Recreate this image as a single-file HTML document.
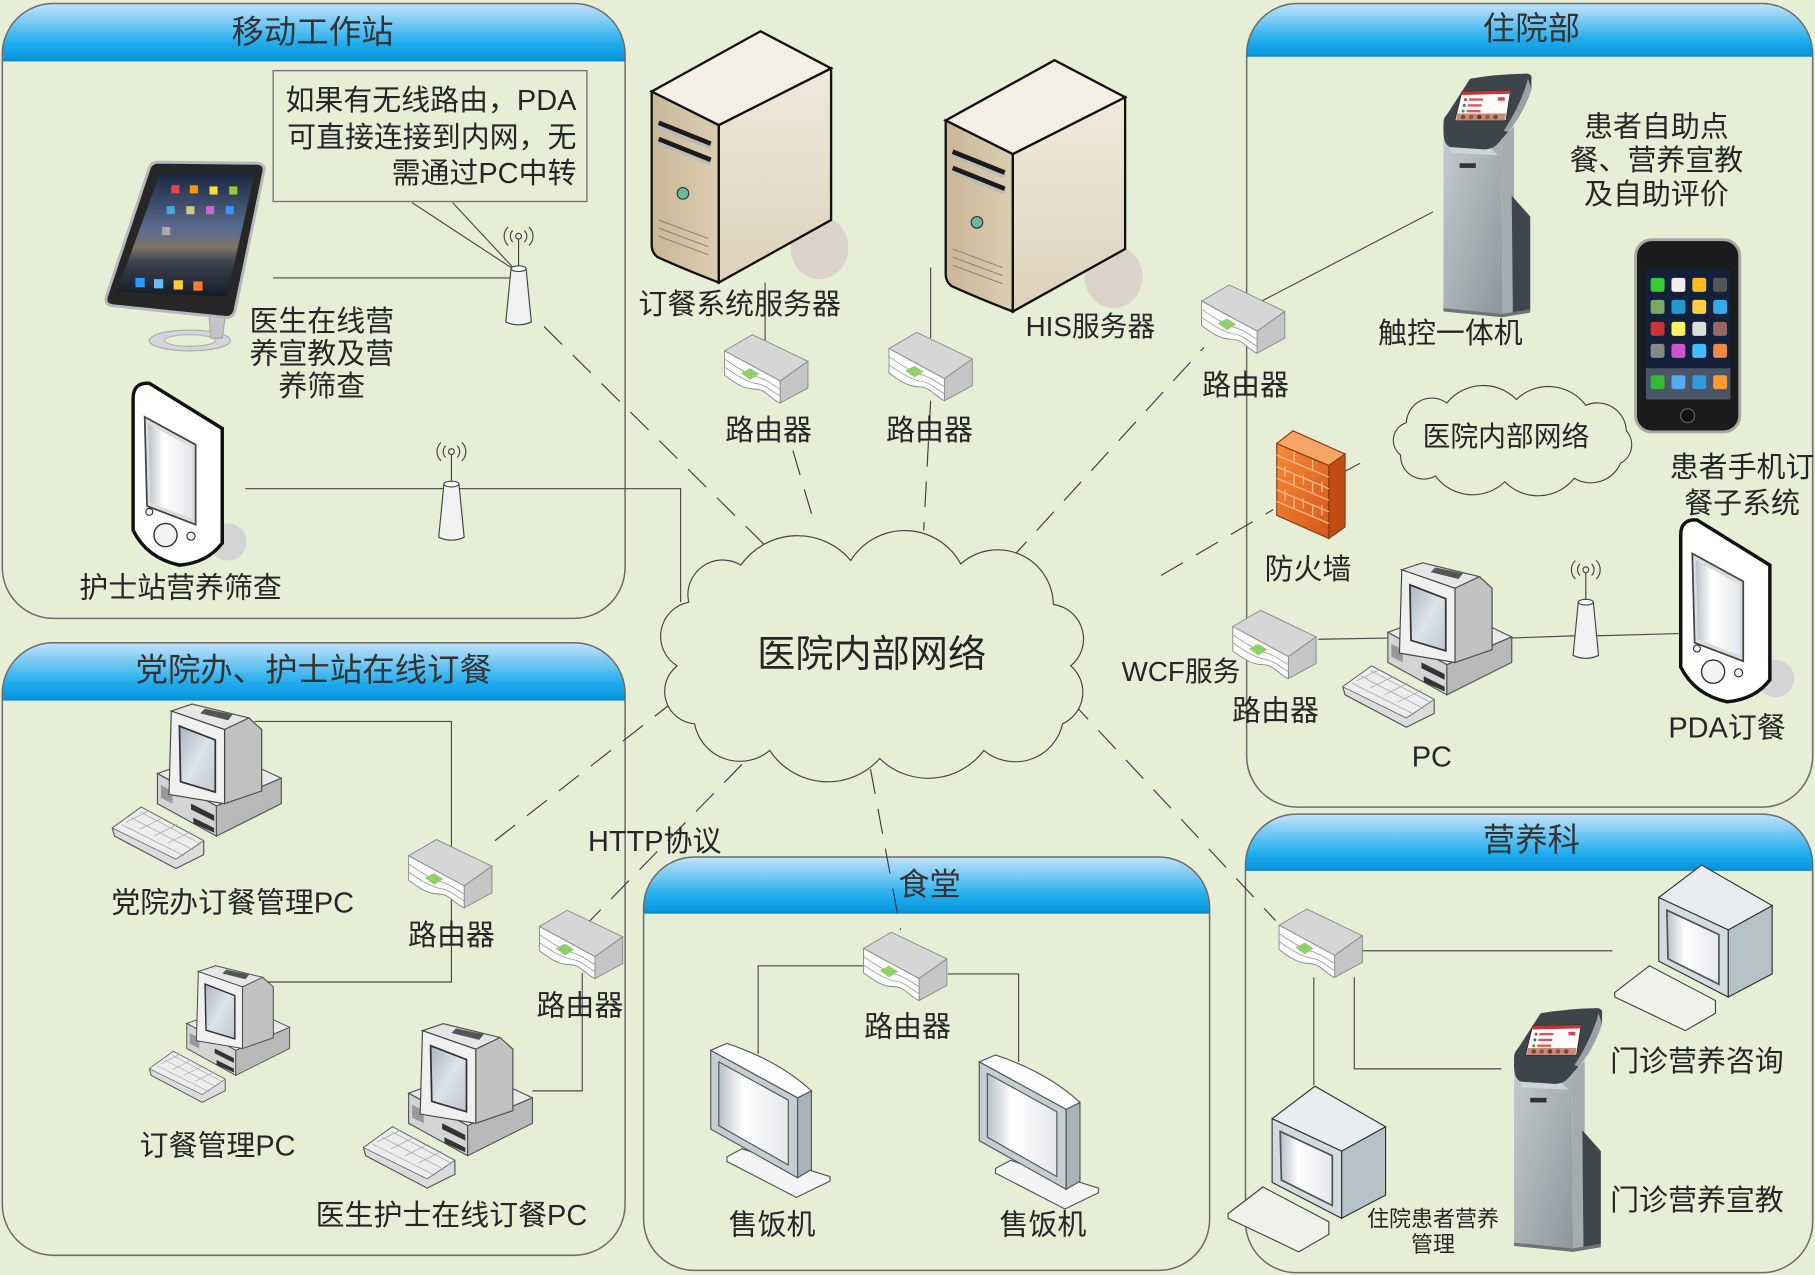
<!DOCTYPE html>
<html><head><meta charset="utf-8">
<style>
html,body{margin:0;padding:0;background:#e6eed5;overflow:hidden;}
svg{display:block;}
text{font-family:"Liberation Sans","Noto Sans CJK SC",sans-serif;fill:#262626;}
.t{font-size:25px;}
.h{font-size:28px;fill:#333;}
</style></head>
<body>
<svg width="1815" height="1275" viewBox="0 0 1568 1101" preserveAspectRatio="none" xmlns="http://www.w3.org/2000/svg">
<defs>
 <linearGradient id="hdr" x1="0" y1="0" x2="0" y2="1">
  <stop offset="0" stop-color="#c2e3fa"/>
  <stop offset="0.35" stop-color="#72c8f4"/>
  <stop offset="0.7" stop-color="#1eaced"/>
  <stop offset="0.94" stop-color="#0b98de"/>
  <stop offset="1" stop-color="#0a86c8"/>
 </linearGradient>
 <linearGradient id="scr" x1="0" y1="0" x2="1" y2="1">
  <stop offset="0" stop-color="#aab4c2"/>
  <stop offset="0.5" stop-color="#dde3ea"/>
  <stop offset="1" stop-color="#bfc7d2"/>
 </linearGradient>
 <linearGradient id="scr2" x1="0" y1="0" x2="1" y2="0">
  <stop offset="0" stop-color="#b8c0c8"/>
  <stop offset="0.35" stop-color="#ffffff"/>
  <stop offset="1" stop-color="#e4e8ec"/>
 </linearGradient>
 <linearGradient id="svL" x1="0" y1="0" x2="1" y2="0">
  <stop offset="0" stop-color="#c9b796"/>
  <stop offset="1" stop-color="#dccdb2"/>
 </linearGradient>
 <linearGradient id="svR" x1="0" y1="0" x2="0" y2="1">
  <stop offset="0" stop-color="#f0e9db"/>
  <stop offset="1" stop-color="#ddd1bb"/>
 </linearGradient>
 <linearGradient id="fwF" x1="0" y1="0" x2="1" y2="1">
  <stop offset="0" stop-color="#f58a3a"/>
  <stop offset="1" stop-color="#d9561a"/>
 </linearGradient>
 <linearGradient id="kb" x1="0" y1="0" x2="1" y2="1">
  <stop offset="0" stop-color="#c6cdd0"/>
  <stop offset="1" stop-color="#8d969b"/>
 </linearGradient>
 <linearGradient id="ipad" x1="0" y1="0" x2="0" y2="1">
  <stop offset="0" stop-color="#1c2842"/>
  <stop offset="0.45" stop-color="#5a6c90"/>
  <stop offset="0.6" stop-color="#7d7466"/>
  <stop offset="0.72" stop-color="#3a4250"/>
  <stop offset="1" stop-color="#161b26"/>
 </linearGradient>

 <g id="router">
  <polygon points="0,14 24,0 72,23 48,40" fill="#d6d6d6" stroke="#8a8a8a" stroke-width="0.8"/>
  <polygon points="48,40 72,23 72,46 48,59" fill="#c6c6c6" stroke="#8a8a8a" stroke-width="0.8"/>
  <path d="M0,14 L48,40 L48,59 C40,56 36,47 26,47 C16,47 8,41 0,35 Z" fill="#ffffff" stroke="#8a8a8a" stroke-width="0.8"/>
  <path d="M0,21 C10,28 18,33 26,36 C36,38 42,44 48,47" fill="none" stroke="#999" stroke-width="0.7"/>
  <path d="M0,28 C10,35 18,40 26,42 C36,43 42,50 48,53" fill="none" stroke="#999" stroke-width="0.7"/>
  <polygon points="14,33 22,29 30,34 22,39" fill="#8fd068"/>
 </g>

 <g id="pc">
  <polygon points="0,107 25,89 79,118 79,130 55,142 2,114" fill="#dcdcdc" stroke="#555" stroke-width="1"/>
  <polygon points="0,107 25,89 79,118 55,134" fill="#ededed" stroke="#666" stroke-width="0.7"/>
  <path d="M8,104 L62,131 M16,98 L70,126 M24,93 L75,120 M12,102 L32,92 M24,108 L44,98 M36,114 L56,104 M48,120 L68,110" stroke="#aaa" stroke-width="0.7" fill="none"/>
  <polygon points="39,60 95,40 146,64 90,88" fill="#e9e9e9" stroke="#555"/>
  <polygon points="39,60 90,88 90,114 39,86" fill="#d4d4d4" stroke="#555"/>
  <polygon points="90,88 146,64 146,86 90,114" fill="#b9b9b9" stroke="#555"/>
  <polygon points="68,86 88,96 88,101 68,91" fill="#333"/>
  <polygon points="70,98 88,107 88,111 70,103" fill="#333"/>
  <polygon points="42,70 52,75 52,86 42,81" fill="#999"/>
  <polygon points="51,6 69,0 118,12 129,22 129,75 97,86 97,22" fill="#d0d0d0" stroke="#555"/>
  <polygon points="51,6 69,0 118,12 97,22" fill="#e6e6e6" stroke="#555"/>
  <polygon points="80,4 104,9 100,14 76,8" fill="#555"/>
  <polygon points="97,22 118,12 129,22 129,75 97,86" fill="#c2c2c2" stroke="#555"/>
  <polygon points="51,6 97,22 97,86 49,78" fill="#f0f0f0" stroke="#444"/>
  <polygon points="58,19 89,31 89,76 59,67" fill="url(#scr)" stroke="#333" stroke-width="1.5"/>
 </g>

 <g id="mon">
  <polygon points="15,99 28,92 104,116 104,120 75,134 15,103" fill="#f4f4f4" stroke="#555"/>
  <polygon points="76,48 88,42 88,110 76,117" fill="#a9b4b8" stroke="#555"/>
  <path d="M1,7 L15,1 Q60,16 88,42 L76,48 Z" fill="#fbfbfb" stroke="#555"/>
  <polygon points="1,7 76,48 76,117 1,75" fill="#c4cfd3" stroke="#555"/>
  <polygon points="8,17 68,50 68,106 8,72" fill="url(#scr2)" stroke="#555"/>
 </g>

 <g id="box">
  <polygon points="0,111 30,88 87,118 87,129 61,144 0,115" fill="#eef2ea" stroke="#444"/>
  <polygon points="98,57 136,36 136,95 98,115" fill="#b5c2c6" stroke="#333"/>
  <polygon points="38,29 75,1 136,36 98,57" fill="#e8eef0" stroke="#333"/>
  <polygon points="38,29 98,57 98,115 38,84" fill="#d3dde0" stroke="#333"/>
  <polygon points="45,40 90,61 90,104 46,82" fill="url(#scr2)" stroke="#555" stroke-width="1.5"/>
 </g>

 <g id="kiosk">
  <polygon points="5,40 55,58 56,208 5,203" fill="url(#kb)"/>
  <polygon points="55,58 66,46 66,208 56,208" fill="#a4acb0"/>
  <polygon points="64,106 80,124 80,204 65,208" fill="#3f464b"/>
  <polygon points="5,203 56,208 80,204 80,207 56,211 5,206" fill="#6c7479"/>
  <rect x="19" y="78" width="14" height="4" fill="#333"/>
  <polygon points="10,63 46,65 52,71 12,69" fill="#cfd5d7"/>
  <path d="M28,5 Q50,1 77,0.5 Q82,1 81,6 L81,14 Q74,35 61,51 L51,62 Q47,66 40,66 L11,64 Q5,62 5,50 L5,45 Q5,38 8,36 Z" fill="#3d444a"/>
  <path d="M78,5 L81,14 Q74,35 61,51 L57,50 Q69,32 76,12 Z" fill="#9aa2a6"/>
  <polygon points="21,16 63,15 59,41 15,41" fill="#fafafa" stroke="#222" stroke-width="0.6"/>
  <polygon points="21,16 63,15 63,18 21,19" fill="#c83434"/>
  <circle cx="24" cy="23" r="1.3" fill="#d33"/><rect x="27" y="22" width="12" height="2" fill="#d55"/>
  <circle cx="23" cy="28" r="1.3" fill="#36c"/><rect x="26" y="27" width="12" height="2" fill="#d55"/>
  <circle cx="22" cy="33" r="1.3" fill="#3a3"/><rect x="25" y="32" width="12" height="2" fill="#d55"/>
  <rect x="52" y="21" width="6" height="3" fill="#d44"/>
  <polygon points="17,35 59,35 58,41 16,41" fill="#c98a7a"/>
  <circle cx="22" cy="38" r="2" fill="#7a4a3a"/><circle cx="29" cy="38" r="2" fill="#8a5a4a"/><circle cx="36" cy="38" r="2" fill="#6a3a2a"/><circle cx="43" cy="38" r="2" fill="#8a5a4a"/><circle cx="50" cy="38" r="2" fill="#7a4a3a"/>
 </g>

 <g id="pda">
  <circle cx="84" cy="138" r="16" fill="#d4d4d4"/>
  <path d="M2,14 Q2,0 16,1 L79,40 L79,139 Q66,156 42,158 Q14,152 2,128 Z" fill="#ffffff" stroke="#111" stroke-width="3"/>
  <polygon points="12,30 56,54 56,123 14,107" fill="#dcdcdc" stroke="#444" stroke-width="1.5"/>
  <polygon points="15,36 53,57 53,118 17,104" fill="url(#scr2)"/>
  <circle cx="30" cy="132" r="10" fill="#f4f4f4" stroke="#333" stroke-width="1.2"/>
  <circle cx="16" cy="112" r="3" fill="#fff" stroke="#333"/>
  <circle cx="52" cy="133" r="3.5" fill="#fff" stroke="#333"/>
 </g>

 <g id="ant">
  <circle cx="0" cy="0" r="2.5" fill="none" stroke="#444"/>
  <path d="M-5,-5 A7,7 0 0 0 -5,5 M5,-5 A7,7 0 0 1 5,5 M-9,-8 A11,11 0 0 0 -9,8 M9,-8 A11,11 0 0 1 9,8" fill="none" stroke="#444"/>
  <line x1="0" y1="2.5" x2="0" y2="28" stroke="#444"/>
  <path d="M-6.5,28 L-11,74 Q0,79 11,74 L6.5,28 Z" fill="#f2f2f2" stroke="#444"/>
  <ellipse cx="0" cy="28" rx="6.5" ry="2.5" fill="#fff" stroke="#444"/>
 </g>

 <g id="server">
  <ellipse cx="708" cy="214" rx="25" ry="27" fill="#dcd3cb"/>
  <path d="M563,79 L621,108 L621,244 Q590,232 568,222 Q563,218 563,212 Z" fill="url(#svL)" stroke="#111" stroke-width="2"/>
  <polygon points="621,108 718,59 718,190 621,244" fill="url(#svR)" stroke="#111" stroke-width="2"/>
  <polygon points="563,79 657,27 718,59 621,108" fill="#f3efe5" stroke="#111" stroke-width="2"/>
  <path d="M569,106 L614,124" stroke="#bbb" stroke-width="4" transform="translate(0,3)"/>
  <path d="M569,106 L614,124" stroke="#1a1a1a" stroke-width="4"/>
  <path d="M569,120 L614,138" stroke="#bbb" stroke-width="4" transform="translate(0,3)"/>
  <path d="M569,120 L614,138" stroke="#1a1a1a" stroke-width="4"/>
  <circle cx="590" cy="167" r="5" fill="#6fb8a0" stroke="#333"/>
  <path d="M569,190 L612,206 M569,197 L612,213 M569,204 L612,220" stroke="#8a7a60" stroke-width="0.8"/>
 </g>
</defs>

<!-- background -->
<rect x="0" y="0" width="1568" height="1101" fill="#e6eed5"/>

<!-- panels -->
<clipPath id="c1"><rect x="2" y="3" width="538" height="531" rx="44"/></clipPath>
<clipPath id="c2"><rect x="2" y="555" width="538" height="529" rx="44"/></clipPath>
<clipPath id="c3"><rect x="1077" y="3" width="489" height="694" rx="44"/></clipPath>
<clipPath id="c4"><rect x="1076" y="703" width="490" height="396" rx="44"/></clipPath>
<clipPath id="c5"><rect x="556" y="740" width="489" height="357" rx="44"/></clipPath>

<rect x="2" y="3" width="538" height="50" fill="url(#hdr)" clip-path="url(#c1)"/>
<rect x="2" y="555" width="538" height="50" fill="url(#hdr)" clip-path="url(#c2)"/>
<rect x="1077" y="3" width="489" height="46" fill="url(#hdr)" clip-path="url(#c3)"/>
<rect x="1076" y="703" width="490" height="49" fill="url(#hdr)" clip-path="url(#c4)"/>
<rect x="556" y="740" width="489" height="49" fill="url(#hdr)" clip-path="url(#c5)"/>

<g fill="none" stroke="#6c6c6c" stroke-width="1.3">
 <rect x="2" y="3" width="538" height="531" rx="44"/>
 <rect x="2" y="555" width="538" height="529" rx="44"/>
 <rect x="1077" y="3" width="489" height="694" rx="44"/>
 <rect x="1076" y="703" width="490" height="396" rx="44"/>
 <rect x="556" y="740" width="489" height="357" rx="44"/>
</g>

<!-- solid connectors -->
<g fill="none" stroke="#4a4a4a" stroke-width="1">
 <path d="M236,240 L441,240"/>
 <path d="M356,175 L446,234 M391,175 L446,234"/>
 <path d="M212,422 L588,422 L588,520"/>
 <path d="M661,244 L661,298"/>
 <path d="M804,231 L804,292"/>
 <path d="M1088,261 L1238,183"/>
 <path d="M1162,407 L1175,400"/>
 <path d="M1139,552 L1199,551"/>
 <path d="M1305,551 L1362,549"/>
 <path d="M1380,549 L1454,547"/>
 <path d="M220,623 L390,623 L390,848 L229,848"/>
 <path d="M503,840 L503,942 L460,942"/>
 <path d="M750,834 L655,834 L655,910"/>
 <path d="M819,841 L880,841 L880,917"/>
 <path d="M1177,821 L1393,821"/>
 <path d="M1135,844 L1135,937"/>
 <path d="M1170,844 L1170,923 L1297,923"/>
</g>

<!-- dashed connectors -->
<g fill="none" stroke="#3e3e3e" stroke-width="1" stroke-dasharray="22 13">
 <path d="M470,282 L662,472"/>
 <path d="M685,389 L702,447"/>
 <path d="M804,346 L798,458"/>
 <path d="M872,484 L1040,300"/>
 <path d="M1003,497 L1100,440"/>
 <path d="M925,605 L1102,795"/>
 <path d="M583,605 L425,728"/>
 <path d="M641,660 L501,804"/>
 <path d="M752,664 L778,803"/>
</g>

<!-- clouds -->
<path d="M595,520 A30,30 0 0 1 640,488 A60,60 0 0 1 735,484 A55,55 0 0 1 830,487 A48,48 0 0 1 910,522 A30,30 0 0 1 925,575 A30,30 0 0 1 918,625 A42,42 0 0 1 850,648 A60,60 0 0 1 760,655 A60,60 0 0 1 665,648 A40,40 0 0 1 600,625 A28,28 0 0 1 585,575 A30,30 0 0 1 595,520 Z" fill="#e6eed5" stroke="#444" stroke-width="1"/>
<path d="M1215,365 A22,22 0 0 1 1250,348 A40,40 0 0 1 1310,345 A40,40 0 0 1 1370,350 A25,25 0 0 1 1405,372 A18,18 0 0 1 1400,400 A28,28 0 0 1 1360,413 A40,40 0 0 1 1300,416 A40,40 0 0 1 1240,411 A20,20 0 0 1 1210,393 A16,16 0 0 1 1215,365 Z" fill="#e6eed5" stroke="#444" stroke-width="1"/>

<!-- callout -->
<rect x="236" y="61" width="271" height="113" fill="none" stroke="#777" stroke-width="1.2"/>

<!-- servers -->
<use href="#server"/>
<use href="#server" transform="translate(254,25)"/>

<!-- iPad -->
<ellipse cx="164" cy="294" rx="35" ry="9" fill="#d6d6da" stroke="#a8a8ae"/>
<ellipse cx="164" cy="294" rx="22" ry="5" fill="#e6eed5" stroke="#b0b0b4"/>
<polygon points="180,262 196,262 192,292 182,292" fill="#c4c4ca" stroke="#aaa"/>
<path d="M137,140 L223,141 Q229,142 228,148 L203,268 Q201,275 194,274 L97,264 Q90,263 92,256 L129,145 Q131,140 137,140 Z" fill="#262626" stroke="#b8b8bc" stroke-width="2.5"/>
<polygon points="138,150 220,150 196,256 101,252" fill="url(#ipad)"/>
<g>
 <rect x="148" y="160" width="7" height="7" fill="#e44"/><rect x="164" y="160" width="7" height="7" fill="#f90"/><rect x="181" y="161" width="7" height="7" fill="#fd3"/><rect x="198" y="161" width="7" height="7" fill="#9c3"/>
 <rect x="144" y="178" width="7" height="7" fill="#4ad"/><rect x="161" y="178" width="7" height="7" fill="#cc8"/><rect x="178" y="178" width="7" height="7" fill="#c6c"/><rect x="195" y="178" width="7" height="7" fill="#39f"/>
 <rect x="140" y="196" width="7" height="7" fill="#aaa"/>
 <rect x="117" y="240" width="8" height="8" fill="#29f"/><rect x="133" y="241" width="8" height="8" fill="#6bf"/><rect x="150" y="242" width="8" height="8" fill="#fc3"/><rect x="167" y="243" width="8" height="8" fill="#f73"/>
</g>

<!-- PDAs -->
<use href="#pda" transform="translate(113,330)"/>
<use href="#pda" transform="translate(1450,448)"/>

<!-- antennas -->
<use href="#ant" transform="translate(448,204)"/>
<use href="#ant" transform="translate(390,390)"/>
<use href="#ant" transform="translate(1370,492)"/>

<!-- routers -->
<use href="#router" transform="translate(626,289)"/>
<use href="#router" transform="translate(768,287)"/>
<use href="#router" transform="translate(1038,246)"/>
<use href="#router" transform="translate(1065,527)"/>
<use href="#router" transform="translate(353,725)"/>
<use href="#router" transform="translate(466,786)"/>
<use href="#router" transform="translate(746,805)"/>
<use href="#router" transform="translate(1105,785)"/>

<!-- PCs -->
<use href="#pc" transform="translate(97,608)"/>
<use href="#pc" transform="translate(129,834) scale(0.83)"/>
<use href="#pc" transform="translate(314,884)"/>
<use href="#pc" transform="translate(1160,486)"/>

<!-- 售饭机 monitors -->
<use href="#mon" transform="translate(613,900)"/>
<use href="#mon" transform="translate(845,910)"/>

<!-- 营养科 box monitors -->
<use href="#box" transform="translate(1395,746)"/>
<use href="#box" transform="translate(1061,937)"/>

<!-- kiosks -->
<use href="#kiosk" transform="translate(1242,63)"/>
<use href="#kiosk" transform="translate(1303,870)"/>

<!-- firewall -->
<polygon points="1103,383 1148,402 1148,465 1103,445" fill="url(#fwF)" stroke="#8a3a10" stroke-width="1"/>
<polygon points="1103,383 1117,372 1162,392 1148,402" fill="#f6a567" stroke="#8a3a10" stroke-width="1"/>
<polygon points="1148,402 1162,392 1162,455 1148,465" fill="#c24c12" stroke="#8a3a10" stroke-width="1"/>
<g stroke="#fbb77e" stroke-width="1.2" fill="none">
 <path d="M1103,393 L1148,412 M1103,403 L1148,422 M1103,413 L1148,432 M1103,423 L1148,442 M1103,433 L1148,452"/>
 <path d="M1118,390 L1118,399 M1134,397 L1134,406 M1110,403 L1110,412 M1126,410 L1126,419 M1142,416 L1142,425 M1118,410 L1118,419 M1134,417 L1134,426 M1110,423 L1110,432 M1126,430 L1126,439 M1142,436 L1142,445 M1118,430 L1118,439 M1134,437 L1134,446"/>
</g>

<!-- iPhone -->
<rect x="1413" y="207" width="90" height="166" rx="14" fill="#1b1b1b" stroke="#a8a8a8" stroke-width="2.5"/>
<rect x="1422" y="233" width="73" height="112" fill="#13203a"/>
<rect x="1422" y="318" width="73" height="27" fill="#4a5568"/>
<g>
 <rect x="1426" y="240" width="12" height="12" rx="2" fill="#3c3"/><rect x="1444" y="240" width="12" height="12" rx="2" fill="#eee"/><rect x="1462" y="240" width="12" height="12" rx="2" fill="#fb2"/><rect x="1480" y="240" width="12" height="12" rx="2" fill="#555"/>
 <rect x="1426" y="259" width="12" height="12" rx="2" fill="#7a6"/><rect x="1444" y="259" width="12" height="12" rx="2" fill="#29c"/><rect x="1462" y="259" width="12" height="12" rx="2" fill="#fc4"/><rect x="1480" y="259" width="12" height="12" rx="2" fill="#3ae"/>
 <rect x="1426" y="278" width="12" height="12" rx="2" fill="#c33"/><rect x="1444" y="278" width="12" height="12" rx="2" fill="#fe6"/><rect x="1462" y="278" width="12" height="12" rx="2" fill="#ddd"/><rect x="1480" y="278" width="12" height="12" rx="2" fill="#966"/>
 <rect x="1426" y="297" width="12" height="12" rx="2" fill="#888"/><rect x="1444" y="297" width="12" height="12" rx="2" fill="#c5c"/><rect x="1462" y="297" width="12" height="12" rx="2" fill="#4bf"/><rect x="1480" y="297" width="12" height="12" rx="2" fill="#e84"/>
 <rect x="1426" y="324" width="12" height="12" rx="2" fill="#3b3"/><rect x="1444" y="324" width="12" height="12" rx="2" fill="#5ae"/><rect x="1462" y="324" width="12" height="12" rx="2" fill="#39d"/><rect x="1480" y="324" width="12" height="12" rx="2" fill="#f93"/>
</g>
<circle cx="1458" cy="359" r="6" fill="#111" stroke="#666"/>

<!-- TEXT -->
<text class="h" x="270" y="37" text-anchor="middle">移动工作站</text>
<text class="t" x="498" y="95" text-anchor="end">如果有无线路由，PDA</text>
<text class="t" x="498" y="127" text-anchor="end">可直接连接到内网，无</text>
<text class="t" x="498" y="158" text-anchor="end">需通过PC中转</text>
<text class="t" x="278" y="286" text-anchor="middle">医生在线营</text>
<text class="t" x="278" y="314" text-anchor="middle">养宣教及营</text>
<text class="t" x="278" y="342" text-anchor="middle">养筛查</text>
<text class="t" x="156" y="516" text-anchor="middle">护士站营养筛查</text>

<text class="h" x="271" y="588" text-anchor="middle">党院办、护士站在线订餐</text>
<text class="t" x="201" y="788" text-anchor="middle">党院办订餐管理PC</text>
<text class="t" x="390" y="816" text-anchor="middle">路由器</text>
<text class="t" x="501" y="877" text-anchor="middle">路由器</text>
<text class="t" x="188" y="998" text-anchor="middle">订餐管理PC</text>
<text class="t" x="390" y="1058" text-anchor="middle">医生护士在线订餐PC</text>
<text class="t" x="508" y="735">HTTP协议</text>

<text class="t" x="639" y="271" text-anchor="middle">订餐系统服务器</text>
<text x="942" y="290" text-anchor="middle" style="font-size:24px">HIS服务器</text>
<text class="t" x="664" y="380" text-anchor="middle">路由器</text>
<text class="t" x="803" y="380" text-anchor="middle">路由器</text>
<text x="753" y="576" text-anchor="middle" style="font-size:33px">医院内部网络</text>
<text x="969" y="588" style="font-size:24px">WCF服务</text>

<text class="h" x="1323" y="34" text-anchor="middle">住院部</text>
<text class="t" x="1431" y="118" text-anchor="middle">患者自助点</text>
<text class="t" x="1431" y="147" text-anchor="middle">餐、营养宣教</text>
<text class="t" x="1431" y="176" text-anchor="middle">及自助评价</text>
<text class="t" x="1253" y="296" text-anchor="middle">触控一体机</text>
<text class="t" x="1076" y="341" text-anchor="middle">路由器</text>
<text x="1301" y="385" text-anchor="middle" style="font-size:24px">医院内部网络</text>
<text class="t" x="1130" y="500" text-anchor="middle">防火墙</text>
<text class="t" x="1505" y="412" text-anchor="middle">患者手机订</text>
<text class="t" x="1505" y="443" text-anchor="middle">餐子系统</text>
<text class="t" x="1492" y="637" text-anchor="middle">PDA订餐</text>
<text class="t" x="1237" y="662" text-anchor="middle">PC</text>
<text class="t" x="1102" y="622" text-anchor="middle">路由器</text>

<text x="803" y="773" text-anchor="middle" style="font-size:27px;fill:#333">食堂</text>
<text class="t" x="784" y="895" text-anchor="middle">路由器</text>
<text class="t" x="667" y="1066" text-anchor="middle">售饭机</text>
<text class="t" x="901" y="1066" text-anchor="middle">售饭机</text>

<text class="h" x="1323" y="735" text-anchor="middle">营养科</text>
<text class="t" x="1466" y="925" text-anchor="middle">门诊营养咨询</text>
<text class="t" x="1466" y="1045" text-anchor="middle">门诊营养宣教</text>
<text x="1238" y="1059" text-anchor="middle" style="font-size:19px">住院患者营养</text>
<text x="1238" y="1081" text-anchor="middle" style="font-size:19px">管理</text>
</svg>
</body></html>
